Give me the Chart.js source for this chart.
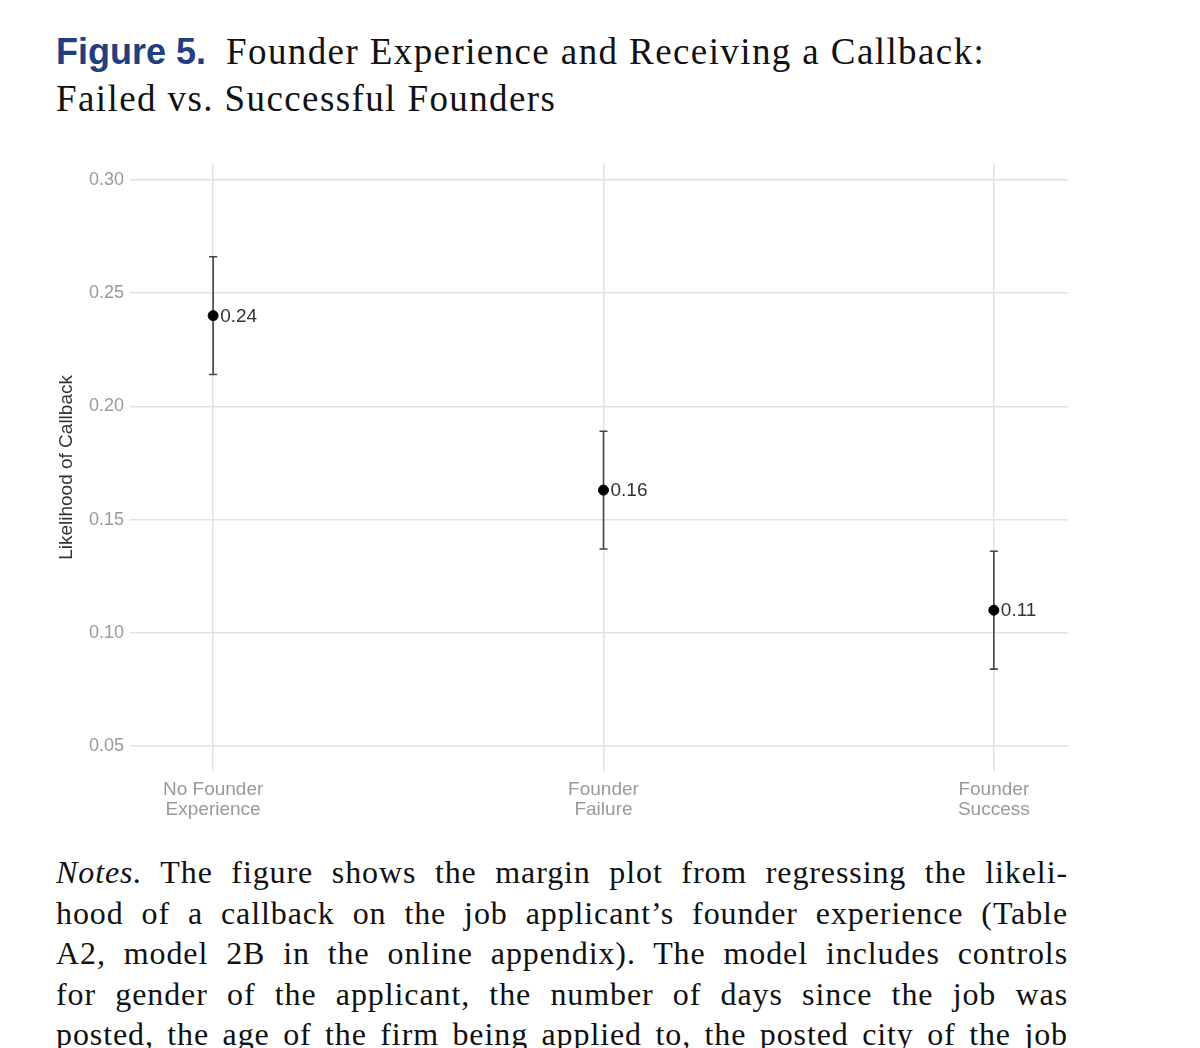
<!DOCTYPE html>
<html>
<head>
<meta charset="utf-8">
<script src="https://cdn.jsdelivr.net/npm/chart.js@4"></script>
<style>
  body { margin: 0; background: #fff; width: 1200px; height: 1048px; overflow: hidden; position: relative; }
  .title { position: absolute; left: 56px; top: 28px; font-family: "Liberation Serif", serif; font-size: 37px; line-height: 47px; color: #111; letter-spacing: 1.4px; }
  .title b { font-family: "Liberation Sans", Arial, sans-serif; color: #22407f; font-size: 36px; margin-right: 20px; letter-spacing: 0; }
  .chartBox { position: absolute; left: 0; top: 147px; width: 1200px; height: 696px; }
  .notes { position: absolute; left: 56px; top: 852px; width: 1012px; font-family: "Liberation Serif", serif; font-size: 32px; line-height: 40.5px; color: #111; letter-spacing: 0.9px; }
  .notes div { text-align: justify; text-align-last: justify; white-space: nowrap; }
</style>
</head>
<body>
<div class="title"><b>Figure 5.</b>Founder Experience and Receiving a Callback:<br>Failed vs. Successful Founders</div>
<div class="chartBox"><canvas id="marginChart"></canvas></div>
<div class="notes">
  <div><i>Notes.</i> The figure shows the margin plot from regressing the likeli-</div>
  <div>hood of a callback on the job applicant’s founder experience (Table</div>
  <div>A2, model 2B in the online appendix). The model includes controls</div>
  <div>for gender of the applicant, the number of days since the job was</div>
  <div>posted, the age of the firm being applied to, the posted city of the job</div>
</div>
<script>
// margin estimates with confidence intervals
const categories = [["No Founder", "Experience"], ["Founder", "Failure"], ["Founder", "Success"]];
const estimates = [0.24, 0.163, 0.11];
const lowerCI = [0.214, 0.137, 0.084];
const upperCI = [0.266, 0.189, 0.136];
const pointLabels = ["0.24", "0.16", "0.11"];
const yTicks = [0.05, 0.10, 0.15, 0.20, 0.25, 0.30];

// draws the whiskers + value labels using the chart scales
const errorBars = {
  id: "errorBars",
  beforeDatasetsDraw(chart) {
    const ctx = chart.ctx;
    const xs = chart.scales.x, ys = chart.scales.y;
    ctx.save();
    ctx.strokeStyle = "#444";
    ctx.lineWidth = 1.6;
    estimates.forEach((v, i) => {
      const x = xs.getPixelForValue(i + 1);
      const top = ys.getPixelForValue(upperCI[i]);
      const bot = ys.getPixelForValue(lowerCI[i]);
      ctx.beginPath();
      ctx.moveTo(x, top); ctx.lineTo(x, bot);
      ctx.moveTo(x - 4, top); ctx.lineTo(x + 4, top);
      ctx.moveTo(x - 4, bot); ctx.lineTo(x + 4, bot);
      ctx.stroke();
    });
    ctx.restore();
  },
  afterDatasetsDraw(chart) {
    const ctx = chart.ctx;
    const xs = chart.scales.x, ys = chart.scales.y;
    ctx.save();
    ctx.fillStyle = "#333";
    ctx.font = "19px 'Liberation Sans', Arial, sans-serif";
    ctx.textBaseline = "middle";
    estimates.forEach((v, i) => {
      ctx.fillText(pointLabels[i], xs.getPixelForValue(i + 1) + 7, ys.getPixelForValue(v) + 1);
    });
    ctx.restore();
  }
};

new Chart(document.getElementById("marginChart").getContext("2d"), {
  type: "scatter",
  data: {
    datasets: [{
      data: estimates.map((v, i) => ({ x: i + 1, y: v })),
      backgroundColor: "#000",
      borderColor: "#000",
      pointRadius: 5,
      pointHoverRadius: 5
    }]
  },
  options: {
    responsive: true,
    maintainAspectRatio: false,
    animation: false,
    layout: { padding: { left: 55, right: 132, top: 8.5, bottom: 14 } },
    plugins: { legend: { display: false }, tooltip: { enabled: false } },
    scales: {
      x: {
        type: "linear",
        min: 0.787,
        max: 3.19,
        afterBuildTicks: (scale) => { scale.ticks = [1, 2, 3].map(v => ({ value: v })); },
        border: { display: false },
        grid: { color: "#e2e2e2", lineWidth: 1.5, drawTicks: false },
        ticks: {
          padding: 9,
          color: "#999",
          font: { family: "'Liberation Sans', Arial, sans-serif", size: 19, lineHeight: 1.05 },
          callback: (v) => categories[v - 1] || ""
        }
      },
      y: {
        min: 0.039,
        max: 0.307,
        afterBuildTicks: (scale) => { scale.ticks = yTicks.map(v => ({ value: v })); },
        afterFit: (scale) => { scale.width = 75; },
        border: { display: false },
        grid: { color: "#e2e2e2", lineWidth: 1.5, drawTicks: false },
        title: {
          display: true,
          text: "Likelihood of Callback",
          color: "#333",
          padding: 0,
          font: { family: "'Liberation Sans', Arial, sans-serif", size: 19 }
        },
        ticks: {
          padding: 6,
          color: "#999",
          font: { family: "'Liberation Sans', Arial, sans-serif", size: 18 },
          callback: (v) => v.toFixed(2)
        }
      }
    }
  },
  plugins: [errorBars]
});
</script>
</body>
</html>
